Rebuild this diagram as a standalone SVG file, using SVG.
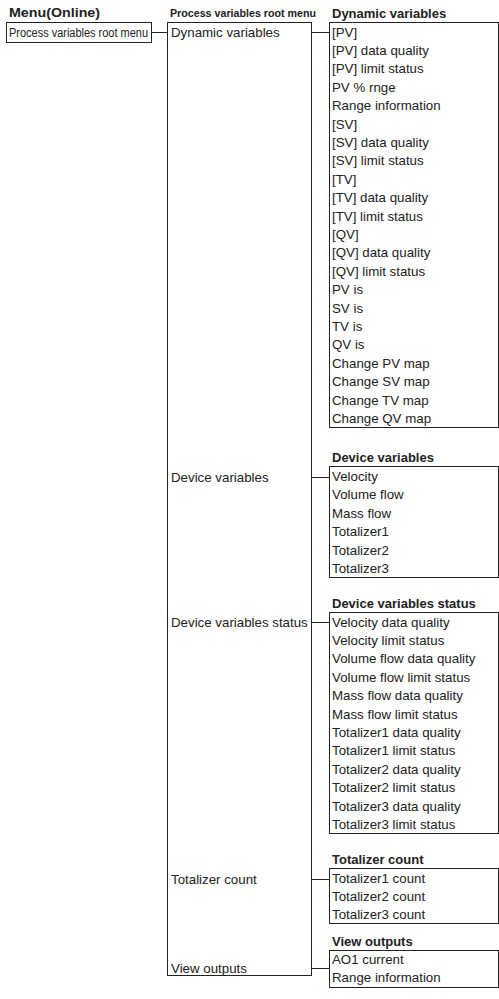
<svg xmlns="http://www.w3.org/2000/svg" width="499" height="999" viewBox="0 0 499 999">
<style>
.box{fill:#fff;stroke:#222;stroke-width:1}
.t{font-family:"Liberation Sans",Arial,sans-serif;font-size:13.3px;fill:#222}
.b{font-family:"Liberation Sans",Arial,sans-serif;font-size:13px;font-weight:bold;fill:#222}
.c{stroke:#222;stroke-width:1;fill:none}
</style>
<rect width="499" height="999" fill="#fff"/>
<text class="b" x="9" y="17" textLength="91" lengthAdjust="spacingAndGlyphs">Menu(Online)</text>
<text class="b" x="170" y="17" style="font-size:11.5px" textLength="146" lengthAdjust="spacingAndGlyphs">Process variables root menu</text>
<g id="root-menu">
<rect class="box" x="6.5" y="22.5" width="145" height="20"/>
<text class="t" x="9" y="37" style="font-size:12px" textLength="139" lengthAdjust="spacingAndGlyphs">Process variables root menu</text>
</g>
<g id="pv-root">
<rect class="box" x="167.5" y="22.5" width="144" height="953"/>
<text class="t" x="171" y="36.5">Dynamic variables</text>
<text class="t" x="171" y="481.5">Device variables</text>
<text class="t" x="171" y="626.5">Device variables status</text>
<text class="t" x="171" y="883.5">Totalizer count</text>
<text class="t" x="171" y="972.5">View outputs</text>
</g>
<g id="connectors">
<path class="c" d="M152 32.5H167.5M311.5 32.5H329.5M311.5 477.5H329.5M311.5 622.5H329.5M311.5 879.5H329.5M311.5 968.5H329.5"/>
</g>
<g id="dynamic-variables">
<text class="b" x="332" y="18">Dynamic variables</text>
<rect class="box" x="329.5" y="22.5" width="169" height="405"/>
<text class="t" x="332" y="36.5">[PV]</text>
<text class="t" x="332" y="54.9">[PV] data quality</text>
<text class="t" x="332" y="73.3">[PV] limit status</text>
<text class="t" x="332" y="91.7">PV % rnge</text>
<text class="t" x="332" y="110.1">Range information</text>
<text class="t" x="332" y="128.5">[SV]</text>
<text class="t" x="332" y="146.9">[SV] data quality</text>
<text class="t" x="332" y="165.3">[SV] limit status</text>
<text class="t" x="332" y="183.7">[TV]</text>
<text class="t" x="332" y="202.1">[TV] data quality</text>
<text class="t" x="332" y="220.5">[TV] limit status</text>
<text class="t" x="332" y="238.9">[QV]</text>
<text class="t" x="332" y="257.3">[QV] data quality</text>
<text class="t" x="332" y="275.7">[QV] limit status</text>
<text class="t" x="332" y="294.1">PV is</text>
<text class="t" x="332" y="312.5">SV is</text>
<text class="t" x="332" y="330.9">TV is</text>
<text class="t" x="332" y="349.3">QV is</text>
<text class="t" x="332" y="367.7">Change PV map</text>
<text class="t" x="332" y="386.1">Change SV map</text>
<text class="t" x="332" y="404.5">Change TV map</text>
<text class="t" x="332" y="422.9">Change QV map</text>
</g>
<g id="device-variables">
<text class="b" x="332" y="462">Device variables</text>
<rect class="box" x="329.5" y="466.5" width="169" height="111"/>
<text class="t" x="332" y="480.5">Velocity</text>
<text class="t" x="332" y="499">Volume flow</text>
<text class="t" x="332" y="517.5">Mass flow</text>
<text class="t" x="332" y="536">Totalizer1</text>
<text class="t" x="332" y="554.5">Totalizer2</text>
<text class="t" x="332" y="573">Totalizer3</text>
</g>
<g id="device-variables-status">
<text class="b" x="332" y="608">Device variables status</text>
<rect class="box" x="329.5" y="612.5" width="169" height="221"/>
<text class="t" x="332" y="626.5">Velocity data quality</text>
<text class="t" x="332" y="644.9">Velocity limit status</text>
<text class="t" x="332" y="663.3">Volume flow data quality</text>
<text class="t" x="332" y="681.7">Volume flow limit status</text>
<text class="t" x="332" y="700.1">Mass flow data quality</text>
<text class="t" x="332" y="718.5">Mass flow limit status</text>
<text class="t" x="332" y="736.9">Totalizer1 data quality</text>
<text class="t" x="332" y="755.3">Totalizer1 limit status</text>
<text class="t" x="332" y="773.7">Totalizer2 data quality</text>
<text class="t" x="332" y="792.1">Totalizer2 limit status</text>
<text class="t" x="332" y="810.5">Totalizer3 data quality</text>
<text class="t" x="332" y="828.9">Totalizer3 limit status</text>
</g>
<g id="totalizer-count">
<text class="b" x="332" y="864">Totalizer count</text>
<rect class="box" x="329.5" y="868.5" width="169" height="55"/>
<text class="t" x="332" y="882.5">Totalizer1 count</text>
<text class="t" x="332" y="900.8">Totalizer2 count</text>
<text class="t" x="332" y="919.1">Totalizer3 count</text>
</g>
<g id="view-outputs">
<text class="b" x="332" y="946">View outputs</text>
<rect class="box" x="329.5" y="950.5" width="169" height="37"/>
<text class="t" x="332" y="964">AO1 current</text>
<text class="t" x="332" y="982">Range information</text>
</g>
</svg>
